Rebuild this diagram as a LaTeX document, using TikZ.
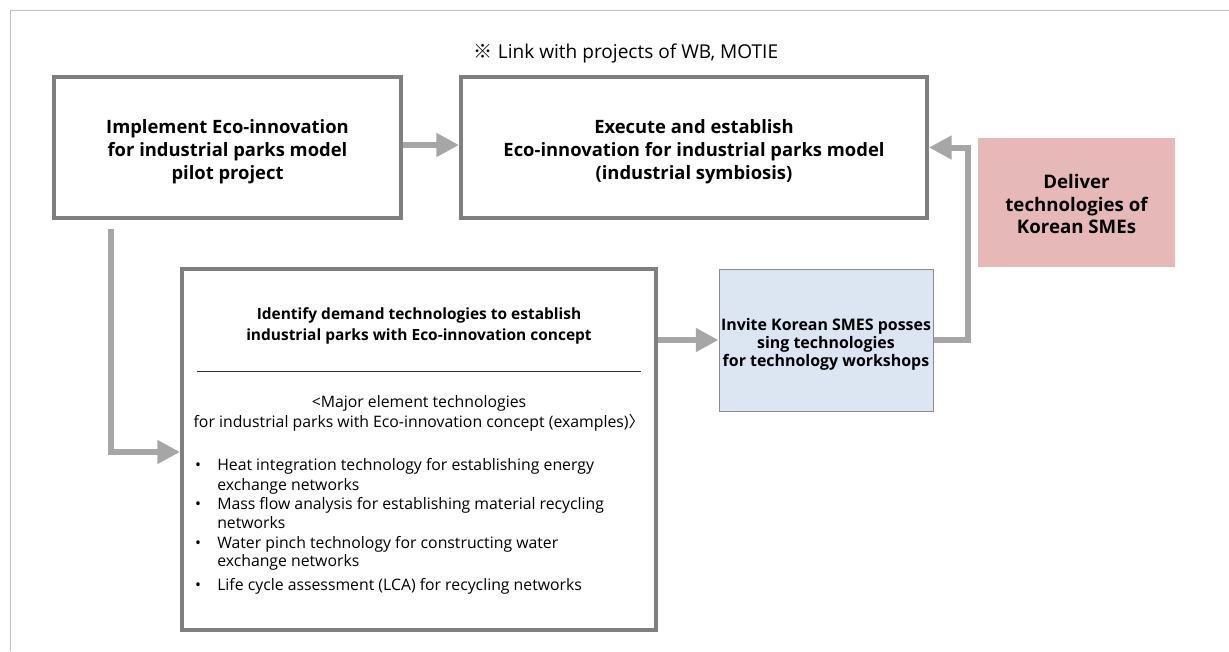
\documentclass[tikz,border=0pt]{standalone}
\usepackage{fontspec}
\setmainfont{Open Sans}
\newfontfamily\cjk{Noto Sans CJK KR}
\usetikzlibrary{arrows.meta,calc}
\definecolor{boxgray}{HTML}{7F7F7F}
\definecolor{arrowgray}{HTML}{A6A6A6}
\definecolor{framegray}{HTML}{BFBFBF}
\definecolor{pinkfill}{HTML}{E6B9B8}
\definecolor{bluefill}{HTML}{DCE6F2}
\definecolor{blueedge}{HTML}{8C8C8C}
\begin{document}
\begin{tikzpicture}[x=0.75pt,y=-0.75pt,
  mainbox/.style={draw=boxgray, line width=3pt, inner sep=0pt},
  boxtext/.style={align=center, inner sep=0pt, font=\bfseries\fontsize{13.8}{17.25}\selectfont},
  arr/.style={draw=arrowgray, line width=4.5pt, -{Triangle[length=17pt,width=17pt]}},
  bodytext/.style={font=\fontsize{11.85}{15}\selectfont, inner sep=0pt},
  bullettext/.style={bodytext, anchor=base west},
  bulletdot/.style={bodytext, anchor=base}]
\useasboundingbox (0,0) rectangle (1229,651);
\draw[framegray, line width=0.75pt] (10,651) -- (10,10) -- (1229,10);

\node[font=\fontsize{14.3}{16}\selectfont] (note) at (626,53) {{\cjk ※} Link with projects of WB, MOTIE};

\node[mainbox, minimum width=260.25pt, minimum height=105.75pt] (box1) at (227.5,147.5) {};
\node[boxtext] (box1text) at (227.5,152)
  {Implement Eco-innovation\\for industrial parks model\\pilot project};
\node[mainbox, minimum width=349.5pt, minimum height=105.75pt] (box2) at (694,147.5) {};
\node[boxtext] (box2text) at (694,151.5)
  {Execute and establish\\Eco-innovation for industrial parks model\\(industrial symbiosis)};
\node[fill=pinkfill, minimum width=147.75pt, minimum height=96.75pt, inner sep=0pt] (pink) at (1076.5,202.5) {};
\node[boxtext, font=\bfseries\fontsize{14}{17}\selectfont] (pinktext) at (1076.5,204)
  {Deliver\\technologies of\\Korean SMEs};
\node[mainbox, minimum width=355.5pt, minimum height=270.75pt] (box3) at (419,449.5) {};
\node[fill=bluefill, draw=blueedge, line width=0.75pt, minimum width=160.5pt, minimum height=106.5pt,
  inner sep=0pt] (blue) at (826,340) {};
\node[boxtext, font=\bfseries\fontsize{11.95}{13.5}\selectfont] (bluetext) at (826,344.5)
  {Invite Korean SMES posses\\sing technologies\\for technology workshops};

\node[boxtext, font=\bfseries\fontsize{11.6}{15.75}\selectfont] (t3) at (419,326)
  {Identify demand technologies to establish\\industrial parks with Eco-innovation concept};
\draw[line width=0.75pt, black!80] (197,371) -- (641,371);
\node[bodytext, align=center] (sub) at (419,413)
  {<Major element technologies\\for industrial parks with Eco-innovation concept (examples){\cjk 〉}};

\node[bulletdot] (d1) at (198,470) {•};
\node[bullettext] (b1a) at (217,470) {Heat integration technology for establishing energy};
\node[bullettext] (b1b) at (217,490) {exchange networks};
\node[bulletdot] (d2) at (198,509) {•};
\node[bullettext] (b2a) at (217,509) {Mass flow analysis for establishing material recycling};
\node[bullettext] (b2b) at (217,528) {networks};
\node[bulletdot] (d3) at (198,548) {•};
\node[bullettext] (b3a) at (217,548) {Water pinch technology for constructing water};
\node[bullettext] (b3b) at (217,566) {exchange networks};
\node[bulletdot] (d4) at (198,590) {•};
\node[bullettext] (b4a) at (217,590) {Life cycle assessment (LCA) for recycling networks};

\coordinate (s1) at (111,229);
\coordinate (c1) at (968,340);
\draw[arr] ($(box1.east)+(0,-2.5)$) -- ($(box2.west)+(0,-2.5)$);
\draw[arr] (s1) |- ($(box3.west)+(0,2.5)$);
\draw[arr] (box3.east |- blue.west) -- (blue.west);
\draw[arr] (blue.east) -- (blue.east -| c1) |- (box2.east);
\end{tikzpicture}
\end{document}
